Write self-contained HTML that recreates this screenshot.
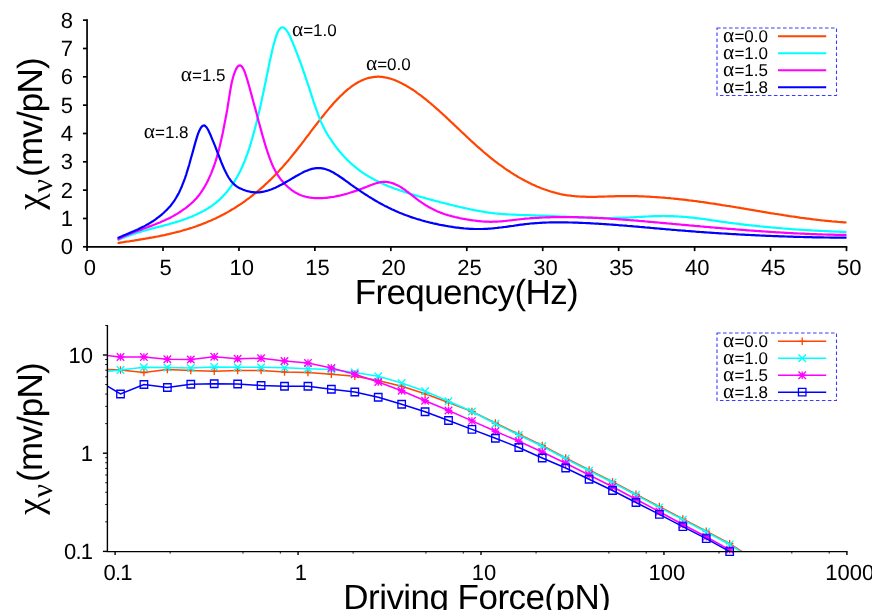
<!DOCTYPE html><html><head><meta charset="utf-8"><title>chart</title><style>html,body{margin:0;padding:0;background:#fff;overflow:hidden}svg{display:block;will-change:transform}</style></head><body><svg width="872" height="610" viewBox="0 0 872 610" font-family="Liberation Sans, sans-serif" text-rendering="geometricPrecision">
<rect width="872" height="610" fill="#fff"/>
<polyline points="117.6,243.1 119.1,242.8 120.5,242.6 122.0,242.4 123.4,242.2 124.9,241.9 126.4,241.7 127.8,241.5 129.3,241.3 130.7,241.0 132.2,240.8 133.7,240.6 135.1,240.3 136.6,240.1 138.1,239.9 139.5,239.6 141.0,239.4 142.4,239.2 143.9,238.9 145.4,238.7 146.8,238.4 148.3,238.2 149.7,237.9 151.2,237.6 152.7,237.4 154.1,237.1 155.6,236.8 157.0,236.5 158.5,236.3 160.0,236.0 161.4,235.7 162.9,235.4 164.3,235.1 165.8,234.7 167.3,234.4 168.7,234.1 170.2,233.7 171.6,233.4 173.1,233.0 174.6,232.7 176.0,232.3 177.5,231.9 179.0,231.6 180.4,231.2 181.9,230.8 183.3,230.3 184.8,229.9 186.3,229.5 187.7,229.0 189.2,228.6 190.6,228.1 192.1,227.7 193.6,227.2 195.0,226.7 196.5,226.2 197.9,225.6 199.4,225.1 200.9,224.6 202.3,224.0 203.8,223.4 205.2,222.9 206.7,222.3 208.2,221.6 209.6,221.0 211.1,220.4 212.5,219.7 214.0,219.1 215.5,218.4 216.9,217.7 218.4,217.0 219.9,216.3 221.3,215.5 222.8,214.7 224.2,214.0 225.7,213.2 227.2,212.4 228.6,211.6 230.1,210.7 231.5,209.8 233.0,209.0 234.5,208.1 235.9,207.2 237.4,206.2 238.8,205.3 240.3,204.3 241.8,203.3 243.2,202.3 244.7,201.3 246.1,200.2 247.6,199.2 249.1,198.1 250.5,197.0 252.0,195.9 253.4,194.7 254.9,193.5 256.4,192.3 257.8,191.1 259.3,189.9 260.8,188.6 262.2,187.4 263.7,186.1 265.1,184.7 266.6,183.4 268.1,182.0 269.5,180.6 271.0,179.2 272.4,177.7 273.9,176.3 275.4,174.8 276.8,173.3 278.3,171.7 279.7,170.1 281.2,168.5 282.7,166.9 284.1,165.3 285.6,163.6 287.0,161.9 288.5,160.2 290.0,158.4 291.4,156.6 292.9,154.8 294.3,153.0 295.8,151.2 297.3,149.3 298.7,147.5 300.2,145.6 301.7,143.7 303.1,141.8 304.6,139.8 306.0,137.9 307.5,136.0 309.0,134.1 310.4,132.2 311.9,130.2 313.3,128.3 314.8,126.4 316.3,124.5 317.7,122.6 319.2,120.7 320.6,118.9 322.1,117.0 323.6,115.2 325.0,113.4 326.5,111.6 327.9,109.9 329.4,108.1 330.9,106.4 332.3,104.8 333.8,103.1 335.2,101.5 336.7,99.9 338.2,98.4 339.6,96.9 341.1,95.5 342.6,94.1 344.0,92.7 345.5,91.4 346.9,90.1 348.4,88.9 349.9,87.8 351.3,86.7 352.8,85.6 354.2,84.6 355.7,83.7 357.2,82.8 358.6,82.0 360.1,81.3 361.5,80.6 363.0,79.9 364.5,79.3 365.9,78.8 367.4,78.3 368.8,77.9 370.3,77.6 371.8,77.3 373.2,77.1 374.7,76.9 376.1,76.8 377.6,76.7 379.1,76.7 380.5,76.8 382.0,76.9 383.5,77.1 384.9,77.4 386.4,77.6 387.8,78.0 389.3,78.4 390.8,78.8 392.2,79.3 393.7,79.8 395.1,80.3 396.6,80.9 398.1,81.6 399.5,82.2 401.0,82.9 402.4,83.7 403.9,84.5 405.4,85.3 406.8,86.1 408.3,87.0 409.7,87.9 411.2,88.8 412.7,89.7 414.1,90.7 415.6,91.7 417.0,92.8 418.5,93.8 420.0,94.9 421.4,96.0 422.9,97.1 424.4,98.3 425.8,99.4 427.3,100.6 428.7,101.8 430.2,103.0 431.7,104.3 433.1,105.5 434.6,106.8 436.0,108.1 437.5,109.4 439.0,110.7 440.4,112.0 441.9,113.3 443.3,114.7 444.8,116.0 446.3,117.4 447.7,118.7 449.2,120.1 450.6,121.5 452.1,122.9 453.6,124.2 455.0,125.6 456.5,127.0 457.9,128.4 459.4,129.8 460.9,131.2 462.3,132.5 463.8,133.9 465.3,135.3 466.7,136.7 468.2,138.0 469.6,139.4 471.1,140.8 472.6,142.1 474.0,143.4 475.5,144.8 476.9,146.1 478.4,147.4 479.9,148.7 481.3,149.9 482.8,151.2 484.2,152.5 485.7,153.7 487.2,154.9 488.6,156.1 490.1,157.3 491.5,158.5 493.0,159.6 494.5,160.8 495.9,161.9 497.4,163.0 498.8,164.1 500.3,165.2 501.8,166.2 503.2,167.2 504.7,168.3 506.2,169.3 507.6,170.3 509.1,171.2 510.5,172.2 512.0,173.1 513.5,174.1 514.9,175.0 516.4,175.8 517.8,176.7 519.3,177.6 520.8,178.4 522.2,179.2 523.7,180.0 525.1,180.8 526.6,181.6 528.1,182.3 529.5,183.0 531.0,183.7 532.4,184.4 533.9,185.1 535.4,185.8 536.8,186.4 538.3,187.0 539.7,187.6 541.2,188.2 542.7,188.7 544.1,189.3 545.6,189.8 547.1,190.3 548.5,190.8 550.0,191.3 551.4,191.7 552.9,192.1 554.4,192.5 555.8,192.9 557.3,193.3 558.7,193.6 560.2,194.0 561.7,194.3 563.1,194.6 564.6,194.8 566.0,195.1 567.5,195.3 569.0,195.5 570.4,195.7 571.9,195.9 573.3,196.0 574.8,196.2 576.3,196.3 577.7,196.4 579.2,196.5 580.6,196.6 582.1,196.6 583.6,196.7 585.0,196.7 586.5,196.8 588.0,196.8 589.4,196.8 590.9,196.8 592.3,196.8 593.8,196.8 595.3,196.8 596.7,196.8 598.2,196.7 599.6,196.7 601.1,196.7 602.6,196.6 604.0,196.6 605.5,196.5 606.9,196.5 608.4,196.4 609.9,196.4 611.3,196.4 612.8,196.3 614.2,196.3 615.7,196.2 617.2,196.2 618.6,196.2 620.1,196.1 621.5,196.1 623.0,196.1 624.5,196.1 625.9,196.1 627.4,196.1 628.9,196.1 630.3,196.1 631.8,196.1 633.2,196.1 634.7,196.2 636.2,196.2 637.6,196.2 639.1,196.3 640.5,196.3 642.0,196.4 643.5,196.4 644.9,196.5 646.4,196.6 647.8,196.6 649.3,196.7 650.8,196.8 652.2,196.9 653.7,197.0 655.1,197.1 656.6,197.2 658.1,197.3 659.5,197.4 661.0,197.5 662.4,197.6 663.9,197.7 665.4,197.8 666.8,198.0 668.3,198.1 669.8,198.2 671.2,198.4 672.7,198.5 674.1,198.6 675.6,198.8 677.1,198.9 678.5,199.1 680.0,199.3 681.4,199.4 682.9,199.6 684.4,199.7 685.8,199.9 687.3,200.1 688.7,200.3 690.2,200.5 691.7,200.6 693.1,200.8 694.6,201.0 696.0,201.2 697.5,201.4 699.0,201.6 700.4,201.8 701.9,202.0 703.3,202.2 704.8,202.4 706.3,202.6 707.7,202.8 709.2,203.1 710.7,203.3 712.1,203.5 713.6,203.7 715.0,203.9 716.5,204.2 718.0,204.4 719.4,204.6 720.9,204.8 722.3,205.1 723.8,205.3 725.3,205.5 726.7,205.8 728.2,206.0 729.6,206.2 731.1,206.5 732.6,206.7 734.0,207.0 735.5,207.2 736.9,207.5 738.4,207.7 739.9,207.9 741.3,208.2 742.8,208.4 744.2,208.7 745.7,208.9 747.2,209.2 748.6,209.4 750.1,209.7 751.6,209.9 753.0,210.1 754.5,210.4 755.9,210.6 757.4,210.9 758.9,211.1 760.3,211.4 761.8,211.6 763.2,211.9 764.7,212.1 766.2,212.3 767.6,212.6 769.1,212.8 770.5,213.1 772.0,213.3 773.5,213.5 774.9,213.8 776.4,214.0 777.8,214.2 779.3,214.5 780.8,214.7 782.2,214.9 783.7,215.2 785.1,215.4 786.6,215.6 788.1,215.8 789.5,216.1 791.0,216.3 792.5,216.5 793.9,216.7 795.4,216.9 796.8,217.1 798.3,217.3 799.8,217.6 801.2,217.8 802.7,218.0 804.1,218.2 805.6,218.4 807.1,218.6 808.5,218.7 810.0,218.9 811.4,219.1 812.9,219.3 814.4,219.5 815.8,219.6 817.3,219.8 818.7,220.0 820.2,220.2 821.7,220.3 823.1,220.5 824.6,220.6 826.0,220.8 827.5,220.9 829.0,221.1 830.4,221.2 831.9,221.4 833.4,221.5 834.8,221.6 836.3,221.7 837.7,221.9 839.2,222.0 840.7,222.1 842.1,222.2 843.6,222.3 845.0,222.4 846.5,222.5" fill="none" stroke="#ff4500" stroke-width="2.2" stroke-linejoin="round" stroke-linecap="butt"/>
<polyline points="117.6,240.2 119.1,239.5 120.5,238.9 122.0,238.2 123.4,237.6 124.9,237.1 126.4,236.5 127.8,235.9 129.3,235.4 130.7,234.9 132.2,234.4 133.7,233.9 135.1,233.4 136.6,233.0 138.1,232.5 139.5,232.1 141.0,231.6 142.4,231.2 143.9,230.8 145.4,230.4 146.8,230.0 148.3,229.6 149.7,229.2 151.2,228.8 152.7,228.4 154.1,228.0 155.6,227.7 157.0,227.3 158.5,226.9 160.0,226.5 161.4,226.1 162.9,225.8 164.3,225.4 165.8,225.0 167.3,224.6 168.7,224.2 170.2,223.8 171.6,223.4 173.1,222.9 174.6,222.5 176.0,222.1 177.5,221.6 179.0,221.2 180.4,220.7 181.9,220.2 183.3,219.7 184.8,219.2 186.3,218.7 187.7,218.1 189.2,217.5 190.6,217.0 192.1,216.4 193.6,215.7 195.0,215.1 196.5,214.4 197.9,213.8 199.4,213.1 200.9,212.3 202.3,211.6 203.8,210.8 205.2,210.0 206.7,209.1 208.2,208.2 209.6,207.3 211.1,206.3 212.5,205.3 214.0,204.2 215.5,203.1 216.9,201.9 218.4,200.6 219.9,199.3 221.3,197.9 222.8,196.4 224.2,194.8 225.7,193.2 227.2,191.5 228.6,189.6 230.1,187.7 231.5,185.7 233.0,183.6 234.5,181.4 235.9,179.0 237.4,176.5 238.8,173.8 240.3,170.9 241.8,167.8 243.2,164.5 244.7,161.0 246.1,157.2 247.6,153.2 249.1,148.8 250.5,144.2 252.0,139.3 253.4,134.1 254.9,128.7 256.4,123.0 257.8,117.1 259.3,110.9 260.8,104.5 262.2,97.8 263.7,91.0 265.1,84.0 266.6,76.8 268.1,69.7 269.5,62.6 271.0,55.9 272.4,49.5 273.9,43.7 275.4,38.6 276.8,34.3 278.3,31.0 279.7,28.8 281.2,27.6 282.7,27.3 284.1,27.8 285.6,29.1 287.0,31.0 288.5,33.4 290.0,36.3 291.4,39.6 292.9,43.1 294.3,46.7 295.8,50.4 297.3,54.2 298.7,58.0 300.2,61.9 301.7,65.9 303.1,70.1 304.6,74.3 306.0,78.6 307.5,83.0 309.0,87.4 310.4,91.9 311.9,96.3 313.3,100.8 314.8,105.1 316.3,109.4 317.7,113.4 319.2,117.3 320.6,120.9 322.1,124.2 323.6,127.2 325.0,130.1 326.5,132.7 327.9,135.2 329.4,137.5 330.9,139.7 332.3,141.9 333.8,143.9 335.2,145.9 336.7,147.9 338.2,149.7 339.6,151.5 341.1,153.2 342.6,154.9 344.0,156.5 345.5,158.1 346.9,159.6 348.4,161.0 349.9,162.4 351.3,163.7 352.8,165.0 354.2,166.2 355.7,167.4 357.2,168.6 358.6,169.7 360.1,170.8 361.5,171.8 363.0,172.8 364.5,173.8 365.9,174.7 367.4,175.6 368.8,176.5 370.3,177.4 371.8,178.2 373.2,179.0 374.7,179.8 376.1,180.6 377.6,181.3 379.1,182.0 380.5,182.7 382.0,183.4 383.5,184.1 384.9,184.7 386.4,185.3 387.8,185.9 389.3,186.5 390.8,187.1 392.2,187.7 393.7,188.2 395.1,188.8 396.6,189.3 398.1,189.8 399.5,190.3 401.0,190.8 402.4,191.3 403.9,191.8 405.4,192.3 406.8,192.7 408.3,193.2 409.7,193.6 411.2,194.1 412.7,194.5 414.1,194.9 415.6,195.4 417.0,195.8 418.5,196.2 420.0,196.6 421.4,197.1 422.9,197.5 424.4,197.9 425.8,198.3 427.3,198.7 428.7,199.1 430.2,199.5 431.7,199.9 433.1,200.3 434.6,200.7 436.0,201.1 437.5,201.4 439.0,201.8 440.4,202.2 441.9,202.6 443.3,202.9 444.8,203.3 446.3,203.7 447.7,204.0 449.2,204.4 450.6,204.8 452.1,205.1 453.6,205.5 455.0,205.8 456.5,206.2 457.9,206.5 459.4,206.8 460.9,207.2 462.3,207.5 463.8,207.9 465.3,208.2 466.7,208.5 468.2,208.8 469.6,209.1 471.1,209.5 472.6,209.8 474.0,210.1 475.5,210.3 476.9,210.6 478.4,210.9 479.9,211.2 481.3,211.4 482.8,211.7 484.2,211.9 485.7,212.2 487.2,212.4 488.6,212.6 490.1,212.8 491.5,213.0 493.0,213.1 494.5,213.3 495.9,213.5 497.4,213.6 498.8,213.7 500.3,213.9 501.8,214.0 503.2,214.1 504.7,214.2 506.2,214.3 507.6,214.4 509.1,214.5 510.5,214.5 512.0,214.6 513.5,214.7 514.9,214.7 516.4,214.8 517.8,214.9 519.3,214.9 520.8,215.0 522.2,215.0 523.7,215.1 525.1,215.1 526.6,215.1 528.1,215.2 529.5,215.2 531.0,215.3 532.4,215.3 533.9,215.4 535.4,215.4 536.8,215.5 538.3,215.5 539.7,215.6 541.2,215.6 542.7,215.7 544.1,215.7 545.6,215.8 547.1,215.9 548.5,215.9 550.0,216.0 551.4,216.1 552.9,216.1 554.4,216.2 555.8,216.3 557.3,216.3 558.7,216.4 560.2,216.5 561.7,216.5 563.1,216.6 564.6,216.7 566.0,216.7 567.5,216.8 569.0,216.9 570.4,216.9 571.9,217.0 573.3,217.1 574.8,217.1 576.3,217.2 577.7,217.3 579.2,217.3 580.6,217.4 582.1,217.4 583.6,217.5 585.0,217.5 586.5,217.6 588.0,217.6 589.4,217.7 590.9,217.7 592.3,217.8 593.8,217.8 595.3,217.8 596.7,217.9 598.2,217.9 599.6,217.9 601.1,217.9 602.6,217.9 604.0,218.0 605.5,218.0 606.9,218.0 608.4,218.0 609.9,218.0 611.3,218.0 612.8,218.0 614.2,217.9 615.7,217.9 617.2,217.9 618.6,217.9 620.1,217.8 621.5,217.8 623.0,217.7 624.5,217.7 625.9,217.6 627.4,217.6 628.9,217.5 630.3,217.4 631.8,217.3 633.2,217.3 634.7,217.2 636.2,217.1 637.6,217.0 639.1,216.9 640.5,216.8 642.0,216.8 643.5,216.7 644.9,216.6 646.4,216.5 647.8,216.5 649.3,216.4 650.8,216.3 652.2,216.3 653.7,216.2 655.1,216.2 656.6,216.1 658.1,216.1 659.5,216.1 661.0,216.1 662.4,216.0 663.9,216.0 665.4,216.1 666.8,216.1 668.3,216.1 669.8,216.1 671.2,216.2 672.7,216.2 674.1,216.3 675.6,216.3 677.1,216.4 678.5,216.5 680.0,216.6 681.4,216.6 682.9,216.8 684.4,216.9 685.8,217.0 687.3,217.1 688.7,217.3 690.2,217.4 691.7,217.6 693.1,217.7 694.6,217.9 696.0,218.1 697.5,218.3 699.0,218.4 700.4,218.6 701.9,218.8 703.3,219.0 704.8,219.2 706.3,219.4 707.7,219.7 709.2,219.9 710.7,220.1 712.1,220.3 713.6,220.5 715.0,220.7 716.5,220.9 718.0,221.1 719.4,221.4 720.9,221.6 722.3,221.8 723.8,222.0 725.3,222.2 726.7,222.4 728.2,222.6 729.6,222.8 731.1,223.0 732.6,223.2 734.0,223.4 735.5,223.5 736.9,223.7 738.4,223.9 739.9,224.1 741.3,224.3 742.8,224.4 744.2,224.6 745.7,224.8 747.2,224.9 748.6,225.1 750.1,225.3 751.6,225.4 753.0,225.6 754.5,225.7 755.9,225.9 757.4,226.1 758.9,226.2 760.3,226.4 761.8,226.5 763.2,226.6 764.7,226.8 766.2,226.9 767.6,227.1 769.1,227.2 770.5,227.3 772.0,227.5 773.5,227.6 774.9,227.7 776.4,227.9 777.8,228.0 779.3,228.1 780.8,228.2 782.2,228.4 783.7,228.5 785.1,228.6 786.6,228.7 788.1,228.8 789.5,228.9 791.0,229.0 792.5,229.2 793.9,229.3 795.4,229.4 796.8,229.5 798.3,229.6 799.8,229.7 801.2,229.8 802.7,229.9 804.1,230.0 805.6,230.1 807.1,230.1 808.5,230.2 810.0,230.3 811.4,230.4 812.9,230.5 814.4,230.6 815.8,230.7 817.3,230.7 818.7,230.8 820.2,230.9 821.7,231.0 823.1,231.0 824.6,231.1 826.0,231.2 827.5,231.2 829.0,231.3 830.4,231.4 831.9,231.4 833.4,231.5 834.8,231.6 836.3,231.6 837.7,231.7 839.2,231.7 840.7,231.8 842.1,231.8 843.6,231.9 845.0,231.9 846.5,232.0" fill="none" stroke="#00ffff" stroke-width="2.2" stroke-linejoin="round" stroke-linecap="butt"/>
<polyline points="117.6,239.4 119.1,238.7 120.5,238.0 122.0,237.3 123.4,236.6 124.9,235.9 126.4,235.3 127.8,234.7 129.3,234.1 130.7,233.5 132.2,232.9 133.7,232.3 135.1,231.8 136.6,231.2 138.1,230.7 139.5,230.1 141.0,229.6 142.4,229.1 143.9,228.5 145.4,228.0 146.8,227.5 148.3,226.9 149.7,226.4 151.2,225.9 152.7,225.3 154.1,224.7 155.6,224.2 157.0,223.6 158.5,223.0 160.0,222.4 161.4,221.8 162.9,221.1 164.3,220.5 165.8,219.8 167.3,219.1 168.7,218.4 170.2,217.7 171.6,216.9 173.1,216.1 174.6,215.3 176.0,214.4 177.5,213.6 179.0,212.6 180.4,211.7 181.9,210.7 183.3,209.7 184.8,208.7 186.3,207.6 187.7,206.4 189.2,205.2 190.6,204.0 192.1,202.7 193.6,201.3 195.0,199.8 196.5,198.2 197.9,196.5 199.4,194.7 200.9,192.7 202.3,190.5 203.8,188.2 205.2,185.7 206.7,183.0 208.2,180.1 209.6,176.9 211.1,173.6 212.5,169.9 214.0,166.0 215.5,161.6 216.9,156.9 218.4,151.6 219.9,145.8 221.3,139.5 222.8,132.7 224.2,125.5 225.7,117.9 227.2,109.7 228.6,100.8 230.1,91.5 231.5,83.5 233.0,77.5 234.5,72.9 235.9,69.3 237.4,66.9 238.8,65.6 240.3,65.4 241.8,66.4 243.2,68.6 244.7,71.8 246.1,76.0 247.6,80.8 249.1,86.0 250.5,91.3 252.0,96.6 253.4,102.0 254.9,107.4 256.4,112.8 257.8,118.2 259.3,123.7 260.8,129.1 262.2,134.4 263.7,139.5 265.1,144.4 266.6,149.1 268.1,153.6 269.5,157.7 271.0,161.6 272.4,165.1 273.9,168.2 275.4,171.1 276.8,173.6 278.3,175.9 279.7,178.0 281.2,179.9 282.7,181.6 284.1,183.2 285.6,184.8 287.0,186.2 288.5,187.5 290.0,188.7 291.4,189.9 292.9,190.9 294.3,191.9 295.8,192.7 297.3,193.5 298.7,194.2 300.2,194.9 301.7,195.5 303.1,196.0 304.6,196.4 306.0,196.8 307.5,197.1 309.0,197.4 310.4,197.6 311.9,197.8 313.3,198.0 314.8,198.1 316.3,198.1 317.7,198.2 319.2,198.2 320.6,198.1 322.1,198.1 323.6,198.0 325.0,197.9 326.5,197.8 327.9,197.6 329.4,197.4 330.9,197.2 332.3,197.0 333.8,196.8 335.2,196.5 336.7,196.2 338.2,195.9 339.6,195.6 341.1,195.2 342.6,194.9 344.0,194.5 345.5,194.1 346.9,193.7 348.4,193.2 349.9,192.8 351.3,192.3 352.8,191.9 354.2,191.4 355.7,190.9 357.2,190.4 358.6,189.8 360.1,189.3 361.5,188.8 363.0,188.2 364.5,187.6 365.9,187.1 367.4,186.5 368.8,185.9 370.3,185.3 371.8,184.8 373.2,184.2 374.7,183.7 376.1,183.3 377.6,182.9 379.1,182.5 380.5,182.2 382.0,182.0 383.5,181.9 384.9,181.9 386.4,181.9 387.8,182.1 389.3,182.3 390.8,182.7 392.2,183.1 393.7,183.6 395.1,184.2 396.6,184.9 398.1,185.6 399.5,186.4 401.0,187.3 402.4,188.2 403.9,189.2 405.4,190.2 406.8,191.3 408.3,192.4 409.7,193.5 411.2,194.7 412.7,195.8 414.1,196.9 415.6,198.1 417.0,199.2 418.5,200.3 420.0,201.3 421.4,202.3 422.9,203.3 424.4,204.3 425.8,205.2 427.3,206.1 428.7,207.0 430.2,207.8 431.7,208.6 433.1,209.3 434.6,210.1 436.0,210.7 437.5,211.4 439.0,212.0 440.4,212.6 441.9,213.1 443.3,213.7 444.8,214.2 446.3,214.6 447.7,215.1 449.2,215.5 450.6,215.9 452.1,216.3 453.6,216.6 455.0,217.0 456.5,217.3 457.9,217.6 459.4,218.0 460.9,218.3 462.3,218.6 463.8,218.8 465.3,219.1 466.7,219.4 468.2,219.6 469.6,219.9 471.1,220.1 472.6,220.3 474.0,220.5 475.5,220.7 476.9,220.9 478.4,221.1 479.9,221.2 481.3,221.3 482.8,221.5 484.2,221.6 485.7,221.6 487.2,221.7 488.6,221.7 490.1,221.8 491.5,221.8 493.0,221.7 494.5,221.7 495.9,221.6 497.4,221.6 498.8,221.5 500.3,221.4 501.8,221.3 503.2,221.1 504.7,221.0 506.2,220.8 507.6,220.7 509.1,220.5 510.5,220.3 512.0,220.2 513.5,220.0 514.9,219.8 516.4,219.7 517.8,219.5 519.3,219.3 520.8,219.2 522.2,219.0 523.7,218.9 525.1,218.7 526.6,218.6 528.1,218.5 529.5,218.4 531.0,218.2 532.4,218.1 533.9,218.0 535.4,217.9 536.8,217.9 538.3,217.8 539.7,217.7 541.2,217.6 542.7,217.5 544.1,217.5 545.6,217.4 547.1,217.4 548.5,217.3 550.0,217.3 551.4,217.2 552.9,217.2 554.4,217.2 555.8,217.2 557.3,217.1 558.7,217.1 560.2,217.1 561.7,217.1 563.1,217.1 564.6,217.1 566.0,217.1 567.5,217.1 569.0,217.1 570.4,217.1 571.9,217.1 573.3,217.2 574.8,217.2 576.3,217.2 577.7,217.2 579.2,217.3 580.6,217.3 582.1,217.4 583.6,217.4 585.0,217.5 586.5,217.5 588.0,217.6 589.4,217.6 590.9,217.7 592.3,217.7 593.8,217.8 595.3,217.9 596.7,217.9 598.2,218.0 599.6,218.1 601.1,218.2 602.6,218.2 604.0,218.3 605.5,218.4 606.9,218.5 608.4,218.6 609.9,218.7 611.3,218.8 612.8,218.9 614.2,219.0 615.7,219.1 617.2,219.2 618.6,219.3 620.1,219.4 621.5,219.5 623.0,219.6 624.5,219.7 625.9,219.8 627.4,219.9 628.9,220.0 630.3,220.2 631.8,220.3 633.2,220.4 634.7,220.5 636.2,220.6 637.6,220.7 639.1,220.9 640.5,221.0 642.0,221.1 643.5,221.2 644.9,221.4 646.4,221.5 647.8,221.6 649.3,221.8 650.8,221.9 652.2,222.0 653.7,222.1 655.1,222.3 656.6,222.4 658.1,222.5 659.5,222.7 661.0,222.8 662.4,222.9 663.9,223.1 665.4,223.2 666.8,223.3 668.3,223.5 669.8,223.6 671.2,223.7 672.7,223.9 674.1,224.0 675.6,224.1 677.1,224.3 678.5,224.4 680.0,224.5 681.4,224.7 682.9,224.8 684.4,224.9 685.8,225.1 687.3,225.2 688.7,225.3 690.2,225.5 691.7,225.6 693.1,225.7 694.6,225.9 696.0,226.0 697.5,226.1 699.0,226.2 700.4,226.4 701.9,226.5 703.3,226.6 704.8,226.8 706.3,226.9 707.7,227.0 709.2,227.1 710.7,227.3 712.1,227.4 713.6,227.5 715.0,227.6 716.5,227.8 718.0,227.9 719.4,228.0 720.9,228.1 722.3,228.3 723.8,228.4 725.3,228.5 726.7,228.6 728.2,228.8 729.6,228.9 731.1,229.0 732.6,229.1 734.0,229.2 735.5,229.3 736.9,229.5 738.4,229.6 739.9,229.7 741.3,229.8 742.8,229.9 744.2,230.0 745.7,230.1 747.2,230.3 748.6,230.4 750.1,230.5 751.6,230.6 753.0,230.7 754.5,230.8 755.9,230.9 757.4,231.0 758.9,231.1 760.3,231.2 761.8,231.3 763.2,231.4 764.7,231.5 766.2,231.6 767.6,231.7 769.1,231.8 770.5,231.9 772.0,232.0 773.5,232.1 774.9,232.2 776.4,232.3 777.8,232.4 779.3,232.4 780.8,232.5 782.2,232.6 783.7,232.7 785.1,232.8 786.6,232.9 788.1,233.0 789.5,233.0 791.0,233.1 792.5,233.2 793.9,233.3 795.4,233.3 796.8,233.4 798.3,233.5 799.8,233.5 801.2,233.6 802.7,233.7 804.1,233.7 805.6,233.8 807.1,233.9 808.5,233.9 810.0,234.0 811.4,234.1 812.9,234.1 814.4,234.2 815.8,234.2 817.3,234.3 818.7,234.3 820.2,234.4 821.7,234.4 823.1,234.5 824.6,234.5 826.0,234.5 827.5,234.6 829.0,234.6 830.4,234.7 831.9,234.7 833.4,234.7 834.8,234.8 836.3,234.8 837.7,234.8 839.2,234.8 840.7,234.9 842.1,234.9 843.6,234.9 845.0,234.9 846.5,234.9" fill="none" stroke="#ff00ff" stroke-width="2.2" stroke-linejoin="round" stroke-linecap="butt"/>
<polyline points="117.6,238.1 119.1,237.4 120.5,236.8 122.0,236.2 123.4,235.5 124.9,234.9 126.4,234.3 127.8,233.7 129.3,233.1 130.7,232.4 132.2,231.8 133.7,231.2 135.1,230.5 136.6,229.9 138.1,229.2 139.5,228.5 141.0,227.8 142.4,227.1 143.9,226.4 145.4,225.6 146.8,224.8 148.3,224.0 149.7,223.1 151.2,222.2 152.7,221.3 154.1,220.3 155.6,219.3 157.0,218.2 158.5,217.1 160.0,216.0 161.4,214.8 162.9,213.5 164.3,212.2 165.8,210.8 167.3,209.4 168.7,207.8 170.2,206.2 171.6,204.4 173.1,202.4 174.6,200.3 176.0,198.0 177.5,195.4 179.0,192.7 180.4,189.6 181.9,186.2 183.3,182.6 184.8,178.6 186.3,174.3 187.7,169.6 189.2,164.7 190.6,159.5 192.1,154.2 193.6,148.9 195.0,143.6 196.5,138.6 197.9,134.2 199.4,130.5 200.9,127.7 202.3,126.0 203.8,125.4 205.2,125.9 206.7,127.5 208.2,130.0 209.6,133.0 211.1,136.3 212.5,139.8 214.0,143.4 215.5,147.2 216.9,150.9 218.4,154.7 219.9,158.5 221.3,162.2 222.8,165.7 224.2,169.0 225.7,172.1 227.2,175.0 228.6,177.5 230.1,179.7 231.5,181.6 233.0,183.2 234.5,184.6 235.9,185.8 237.4,186.8 238.8,187.7 240.3,188.4 241.8,189.1 243.2,189.7 244.7,190.3 246.1,190.7 247.6,191.2 249.1,191.5 250.5,191.8 252.0,192.1 253.4,192.2 254.9,192.4 256.4,192.4 257.8,192.4 259.3,192.3 260.8,192.1 262.2,191.9 263.7,191.7 265.1,191.3 266.6,190.9 268.1,190.5 269.5,190.0 271.0,189.5 272.4,188.9 273.9,188.3 275.4,187.7 276.8,187.0 278.3,186.3 279.7,185.5 281.2,184.8 282.7,184.0 284.1,183.2 285.6,182.3 287.0,181.5 288.5,180.6 290.0,179.8 291.4,178.9 292.9,178.0 294.3,177.2 295.8,176.3 297.3,175.5 298.7,174.7 300.2,173.9 301.7,173.1 303.1,172.3 304.6,171.6 306.0,171.0 307.5,170.4 309.0,169.8 310.4,169.4 311.9,168.9 313.3,168.6 314.8,168.3 316.3,168.1 317.7,168.1 319.2,168.1 320.6,168.1 322.1,168.3 323.6,168.6 325.0,169.0 326.5,169.5 327.9,170.0 329.4,170.6 330.9,171.3 332.3,172.1 333.8,172.8 335.2,173.7 336.7,174.6 338.2,175.5 339.6,176.5 341.1,177.5 342.6,178.5 344.0,179.5 345.5,180.6 346.9,181.6 348.4,182.7 349.9,183.8 351.3,184.8 352.8,185.8 354.2,186.9 355.7,187.9 357.2,188.9 358.6,189.9 360.1,190.9 361.5,191.9 363.0,192.8 364.5,193.8 365.9,194.7 367.4,195.7 368.8,196.6 370.3,197.5 371.8,198.4 373.2,199.3 374.7,200.2 376.1,201.0 377.6,201.9 379.1,202.7 380.5,203.5 382.0,204.3 383.5,205.1 384.9,205.9 386.4,206.6 387.8,207.3 389.3,208.1 390.8,208.8 392.2,209.5 393.7,210.1 395.1,210.8 396.6,211.4 398.1,212.1 399.5,212.7 401.0,213.3 402.4,213.8 403.9,214.4 405.4,215.0 406.8,215.5 408.3,216.0 409.7,216.6 411.2,217.1 412.7,217.6 414.1,218.0 415.6,218.5 417.0,219.0 418.5,219.4 420.0,219.8 421.4,220.3 422.9,220.7 424.4,221.1 425.8,221.5 427.3,221.8 428.7,222.2 430.2,222.6 431.7,222.9 433.1,223.3 434.6,223.6 436.0,223.9 437.5,224.2 439.0,224.6 440.4,224.9 441.9,225.1 443.3,225.4 444.8,225.7 446.3,226.0 447.7,226.2 449.2,226.5 450.6,226.7 452.1,226.9 453.6,227.2 455.0,227.4 456.5,227.6 457.9,227.7 459.4,227.9 460.9,228.1 462.3,228.2 463.8,228.4 465.3,228.5 466.7,228.6 468.2,228.7 469.6,228.8 471.1,228.9 472.6,228.9 474.0,229.0 475.5,229.0 476.9,229.0 478.4,229.0 479.9,229.0 481.3,229.0 482.8,229.0 484.2,228.9 485.7,228.9 487.2,228.8 488.6,228.7 490.1,228.6 491.5,228.5 493.0,228.3 494.5,228.2 495.9,228.0 497.4,227.9 498.8,227.7 500.3,227.5 501.8,227.4 503.2,227.2 504.7,227.0 506.2,226.8 507.6,226.6 509.1,226.4 510.5,226.2 512.0,226.0 513.5,225.8 514.9,225.5 516.4,225.3 517.8,225.1 519.3,224.9 520.8,224.7 522.2,224.6 523.7,224.4 525.1,224.2 526.6,224.0 528.1,223.8 529.5,223.7 531.0,223.5 532.4,223.4 533.9,223.3 535.4,223.2 536.8,223.1 538.3,223.0 539.7,222.9 541.2,222.8 542.7,222.7 544.1,222.6 545.6,222.6 547.1,222.5 548.5,222.5 550.0,222.4 551.4,222.4 552.9,222.4 554.4,222.4 555.8,222.3 557.3,222.3 558.7,222.3 560.2,222.3 561.7,222.3 563.1,222.4 564.6,222.4 566.0,222.4 567.5,222.4 569.0,222.5 570.4,222.5 571.9,222.5 573.3,222.6 574.8,222.6 576.3,222.7 577.7,222.7 579.2,222.8 580.6,222.8 582.1,222.9 583.6,223.0 585.0,223.0 586.5,223.1 588.0,223.2 589.4,223.2 590.9,223.3 592.3,223.4 593.8,223.5 595.3,223.6 596.7,223.6 598.2,223.7 599.6,223.8 601.1,223.9 602.6,224.0 604.0,224.1 605.5,224.2 606.9,224.3 608.4,224.4 609.9,224.5 611.3,224.6 612.8,224.7 614.2,224.8 615.7,224.9 617.2,225.0 618.6,225.2 620.1,225.3 621.5,225.4 623.0,225.5 624.5,225.6 625.9,225.7 627.4,225.9 628.9,226.0 630.3,226.1 631.8,226.2 633.2,226.3 634.7,226.5 636.2,226.6 637.6,226.7 639.1,226.8 640.5,227.0 642.0,227.1 643.5,227.2 644.9,227.4 646.4,227.5 647.8,227.6 649.3,227.7 650.8,227.9 652.2,228.0 653.7,228.1 655.1,228.3 656.6,228.4 658.1,228.5 659.5,228.6 661.0,228.8 662.4,228.9 663.9,229.0 665.4,229.2 666.8,229.3 668.3,229.4 669.8,229.5 671.2,229.7 672.7,229.8 674.1,229.9 675.6,230.0 677.1,230.2 678.5,230.3 680.0,230.4 681.4,230.5 682.9,230.6 684.4,230.7 685.8,230.9 687.3,231.0 688.7,231.1 690.2,231.2 691.7,231.3 693.1,231.4 694.6,231.5 696.0,231.7 697.5,231.8 699.0,231.9 700.4,232.0 701.9,232.1 703.3,232.2 704.8,232.3 706.3,232.4 707.7,232.5 709.2,232.6 710.7,232.7 712.1,232.8 713.6,232.9 715.0,233.0 716.5,233.1 718.0,233.2 719.4,233.3 720.9,233.4 722.3,233.5 723.8,233.5 725.3,233.6 726.7,233.7 728.2,233.8 729.6,233.9 731.1,234.0 732.6,234.1 734.0,234.2 735.5,234.2 736.9,234.3 738.4,234.4 739.9,234.5 741.3,234.6 742.8,234.6 744.2,234.7 745.7,234.8 747.2,234.9 748.6,234.9 750.1,235.0 751.6,235.1 753.0,235.2 754.5,235.2 755.9,235.3 757.4,235.4 758.9,235.4 760.3,235.5 761.8,235.6 763.2,235.6 764.7,235.7 766.2,235.8 767.6,235.8 769.1,235.9 770.5,235.9 772.0,236.0 773.5,236.1 774.9,236.1 776.4,236.2 777.8,236.2 779.3,236.3 780.8,236.3 782.2,236.4 783.7,236.4 785.1,236.5 786.6,236.5 788.1,236.6 789.5,236.6 791.0,236.7 792.5,236.7 793.9,236.8 795.4,236.8 796.8,236.9 798.3,236.9 799.8,236.9 801.2,237.0 802.7,237.0 804.1,237.1 805.6,237.1 807.1,237.1 808.5,237.2 810.0,237.2 811.4,237.2 812.9,237.3 814.4,237.3 815.8,237.3 817.3,237.3 818.7,237.4 820.2,237.4 821.7,237.4 823.1,237.4 824.6,237.5 826.0,237.5 827.5,237.5 829.0,237.5 830.4,237.6 831.9,237.6 833.4,237.6 834.8,237.6 836.3,237.6 837.7,237.6 839.2,237.7 840.7,237.7 842.1,237.7 843.6,237.7 845.0,237.7 846.5,237.7" fill="none" stroke="#0000ff" stroke-width="2.2" stroke-linejoin="round" stroke-linecap="butt"/>
<g stroke="#000000" stroke-width="1.7" fill="none">
<path d="M87.05 19.360000000000024 V246.8 H847.3"/>
<path d="M82.95 246.80 H87.05"/>
<path d="M82.95 218.47 H87.05"/>
<path d="M82.95 190.14 H87.05"/>
<path d="M82.95 161.81 H87.05"/>
<path d="M82.95 133.48 H87.05"/>
<path d="M82.95 105.15 H87.05"/>
<path d="M82.95 76.82 H87.05"/>
<path d="M82.95 48.49 H87.05"/>
<path d="M82.95 20.16 H87.05"/>
<path d="M87.05 246.8 V251.10000000000002"/>
<path d="M163.00 246.8 V251.10000000000002"/>
<path d="M238.94 246.8 V251.10000000000002"/>
<path d="M314.88 246.8 V251.10000000000002"/>
<path d="M390.83 246.8 V251.10000000000002"/>
<path d="M466.78 246.8 V251.10000000000002"/>
<path d="M542.72 246.8 V251.10000000000002"/>
<path d="M618.66 246.8 V251.10000000000002"/>
<path d="M694.61 246.8 V251.10000000000002"/>
<path d="M770.55 246.8 V251.10000000000002"/>
<path d="M846.50 246.8 V251.10000000000002"/>
</g>
<g font-size="22" fill="#000">
<text x="73.1" y="254.40" text-anchor="end">0</text>
<text x="73.1" y="226.07" text-anchor="end">1</text>
<text x="73.1" y="197.74" text-anchor="end">2</text>
<text x="73.1" y="169.41" text-anchor="end">3</text>
<text x="73.1" y="141.08" text-anchor="end">4</text>
<text x="73.1" y="112.75" text-anchor="end">5</text>
<text x="73.1" y="84.42" text-anchor="end">6</text>
<text x="73.1" y="56.09" text-anchor="end">7</text>
<text x="73.1" y="27.76" text-anchor="end">8</text>
<text x="89.75" y="275.3" text-anchor="middle">0</text>
<text x="165.69" y="275.3" text-anchor="middle">5</text>
<text x="241.64" y="275.3" text-anchor="middle">10</text>
<text x="317.58" y="275.3" text-anchor="middle">15</text>
<text x="393.53" y="275.3" text-anchor="middle">20</text>
<text x="469.48" y="275.3" text-anchor="middle">25</text>
<text x="545.42" y="275.3" text-anchor="middle">30</text>
<text x="621.37" y="275.3" text-anchor="middle">35</text>
<text x="697.31" y="275.3" text-anchor="middle">40</text>
<text x="773.25" y="275.3" text-anchor="middle">45</text>
<text x="849.20" y="275.3" text-anchor="middle">50</text>
</g>
<text x="354.7" y="304.2" font-size="35" textLength="224" lengthAdjust="spacing" fill="#000">Frequency(Hz)</text>
<g transform="translate(41.5 0) rotate(-90)"><text font-size="35" fill="#000"><tspan x="-209.7" y="0" font-family="Liberation Serif, serif" font-size="37">χ</tspan><tspan x="-192.6" y="10.2" font-family="Liberation Serif, serif" font-size="30">ν</tspan><tspan x="-176.9" y="0" textLength="119.5" lengthAdjust="spacing">(mv/pN)</tspan></text></g>
<g transform="translate(41.5 305.0) rotate(-90)"><text font-size="35" fill="#000"><tspan x="-209.7" y="0" font-family="Liberation Serif, serif" font-size="37">χ</tspan><tspan x="-192.6" y="10.2" font-family="Liberation Serif, serif" font-size="30">ν</tspan><tspan x="-176.9" y="0" textLength="119.5" lengthAdjust="spacing">(mv/pN)</tspan></text></g>
<text y="137.8" font-size="17" fill="#000"><tspan x="143.70" font-family="Liberation Serif, serif" font-size="21" textLength="11.2" lengthAdjust="spacingAndGlyphs">α</tspan><tspan x="155.00">=1.8</tspan></text>
<text y="81.0" font-size="17" fill="#000"><tspan x="180.70" font-family="Liberation Serif, serif" font-size="21" textLength="11.2" lengthAdjust="spacingAndGlyphs">α</tspan><tspan x="192.00">=1.5</tspan></text>
<text y="35.7" font-size="17" fill="#000"><tspan x="291.90" font-family="Liberation Serif, serif" font-size="21" textLength="11.2" lengthAdjust="spacingAndGlyphs">α</tspan><tspan x="303.20">=1.0</tspan></text>
<text y="69.9" font-size="17" fill="#000"><tspan x="365.90" font-family="Liberation Serif, serif" font-size="21" textLength="11.2" lengthAdjust="spacingAndGlyphs">α</tspan><tspan x="377.20">=0.0</tspan></text>
<rect x="717.0" y="28.0" width="119.5" height="67.5" fill="none" stroke="#3c3cff" stroke-width="1.1" stroke-dasharray="3.6 2.4"/><text y="42.1" font-size="17" fill="#000"><tspan x="723.10" font-family="Liberation Serif, serif" font-size="21" textLength="11.2" lengthAdjust="spacingAndGlyphs">α</tspan><tspan x="734.40">=0.0</tspan></text><path d="M778 36.35 H826.2" stroke="#ff4500" stroke-width="2.0" fill="none"/><text y="59.03" font-size="17" fill="#000"><tspan x="723.10" font-family="Liberation Serif, serif" font-size="21" textLength="11.2" lengthAdjust="spacingAndGlyphs">α</tspan><tspan x="734.40">=1.0</tspan></text><path d="M778 53.28 H826.2" stroke="#00ffff" stroke-width="2.0" fill="none"/><text y="75.96" font-size="17" fill="#000"><tspan x="723.10" font-family="Liberation Serif, serif" font-size="21" textLength="11.2" lengthAdjust="spacingAndGlyphs">α</tspan><tspan x="734.40">=1.5</tspan></text><path d="M778 70.21 H826.2" stroke="#ff00ff" stroke-width="2.0" fill="none"/><text y="92.89" font-size="17" fill="#000"><tspan x="723.10" font-family="Liberation Serif, serif" font-size="21" textLength="11.2" lengthAdjust="spacingAndGlyphs">α</tspan><tspan x="734.40">=1.8</tspan></text><path d="M778 87.14 H826.2" stroke="#0000ff" stroke-width="2.0" fill="none"/>
<clipPath id="cb"><rect x="107.4" y="325.0" width="739.5" height="226.60000000000002"/></clipPath>
<polyline clip-path="url(#cb)" points="97.07,369.00 120.50,370.00 143.93,372.50 167.36,369.50 190.79,370.50 214.22,371.25 237.65,370.50 261.08,370.50 284.51,372.00 307.94,372.50 331.37,374.25 354.80,376.25 378.23,380.50 401.66,386.25 425.09,393.75 448.52,402.50 471.95,411.50 495.38,423.00 518.81,434.25 542.24,445.50 565.67,458.00 589.10,470.00 612.53,481.75 635.96,494.25 659.39,506.60 682.82,518.90 706.25,531.20 729.68,543.70 753.11,558.70 776.54,573.70" fill="none" stroke="#ff4500" stroke-width="1.5"/>
<path d="M116.75 370.00H124.25M120.50 366.25V373.75" stroke="#ff4500" stroke-width="1.3" fill="none"/>
<path d="M140.18 372.50H147.68M143.93 368.75V376.25" stroke="#ff4500" stroke-width="1.3" fill="none"/>
<path d="M163.61 369.50H171.11M167.36 365.75V373.25" stroke="#ff4500" stroke-width="1.3" fill="none"/>
<path d="M187.04 370.50H194.54M190.79 366.75V374.25" stroke="#ff4500" stroke-width="1.3" fill="none"/>
<path d="M210.47 371.25H217.97M214.22 367.50V375.00" stroke="#ff4500" stroke-width="1.3" fill="none"/>
<path d="M233.90 370.50H241.40M237.65 366.75V374.25" stroke="#ff4500" stroke-width="1.3" fill="none"/>
<path d="M257.33 370.50H264.83M261.08 366.75V374.25" stroke="#ff4500" stroke-width="1.3" fill="none"/>
<path d="M280.76 372.00H288.26M284.51 368.25V375.75" stroke="#ff4500" stroke-width="1.3" fill="none"/>
<path d="M304.19 372.50H311.69M307.94 368.75V376.25" stroke="#ff4500" stroke-width="1.3" fill="none"/>
<path d="M327.62 374.25H335.12M331.37 370.50V378.00" stroke="#ff4500" stroke-width="1.3" fill="none"/>
<path d="M351.05 376.25H358.55M354.80 372.50V380.00" stroke="#ff4500" stroke-width="1.3" fill="none"/>
<path d="M374.48 380.50H381.98M378.23 376.75V384.25" stroke="#ff4500" stroke-width="1.3" fill="none"/>
<path d="M397.91 386.25H405.41M401.66 382.50V390.00" stroke="#ff4500" stroke-width="1.3" fill="none"/>
<path d="M421.34 393.75H428.84M425.09 390.00V397.50" stroke="#ff4500" stroke-width="1.3" fill="none"/>
<path d="M444.77 402.50H452.27M448.52 398.75V406.25" stroke="#ff4500" stroke-width="1.3" fill="none"/>
<path d="M468.20 411.50H475.70M471.95 407.75V415.25" stroke="#ff4500" stroke-width="1.3" fill="none"/>
<path d="M491.63 423.00H499.13M495.38 419.25V426.75" stroke="#ff4500" stroke-width="1.3" fill="none"/>
<path d="M515.06 434.25H522.56M518.81 430.50V438.00" stroke="#ff4500" stroke-width="1.3" fill="none"/>
<path d="M538.49 445.50H545.99M542.24 441.75V449.25" stroke="#ff4500" stroke-width="1.3" fill="none"/>
<path d="M561.92 458.00H569.42M565.67 454.25V461.75" stroke="#ff4500" stroke-width="1.3" fill="none"/>
<path d="M585.35 470.00H592.85M589.10 466.25V473.75" stroke="#ff4500" stroke-width="1.3" fill="none"/>
<path d="M608.78 481.75H616.28M612.53 478.00V485.50" stroke="#ff4500" stroke-width="1.3" fill="none"/>
<path d="M632.21 494.25H639.71M635.96 490.50V498.00" stroke="#ff4500" stroke-width="1.3" fill="none"/>
<path d="M655.64 506.60H663.14M659.39 502.85V510.35" stroke="#ff4500" stroke-width="1.3" fill="none"/>
<path d="M679.07 518.90H686.57M682.82 515.15V522.65" stroke="#ff4500" stroke-width="1.3" fill="none"/>
<path d="M702.50 531.20H710.00M706.25 527.45V534.95" stroke="#ff4500" stroke-width="1.3" fill="none"/>
<path d="M725.93 543.70H733.43M729.68 539.95V547.45" stroke="#ff4500" stroke-width="1.3" fill="none"/>
<polyline clip-path="url(#cb)" points="97.07,372.50 120.50,370.00 143.93,367.25 167.36,367.50 190.79,368.00 214.22,367.00 237.65,367.25 261.08,367.25 284.51,367.75 307.94,368.75 331.37,369.50 354.80,372.50 378.23,376.25 401.66,383.00 425.09,391.25 448.52,401.25 471.95,411.50 495.38,423.75 518.81,435.00 542.24,446.25 565.67,458.75 589.10,470.75 612.53,482.50 635.96,495.00 659.39,507.40 682.82,519.70 706.25,532.00 729.68,544.50 753.11,559.50 776.54,574.50" fill="none" stroke="#00ffff" stroke-width="1.5"/>
<path d="M116.75 366.25L124.25 373.75M116.75 373.75L124.25 366.25" stroke="#00ffff" stroke-width="1.3" fill="none"/>
<path d="M140.18 363.50L147.68 371.00M140.18 371.00L147.68 363.50" stroke="#00ffff" stroke-width="1.3" fill="none"/>
<path d="M163.61 363.75L171.11 371.25M163.61 371.25L171.11 363.75" stroke="#00ffff" stroke-width="1.3" fill="none"/>
<path d="M187.04 364.25L194.54 371.75M187.04 371.75L194.54 364.25" stroke="#00ffff" stroke-width="1.3" fill="none"/>
<path d="M210.47 363.25L217.97 370.75M210.47 370.75L217.97 363.25" stroke="#00ffff" stroke-width="1.3" fill="none"/>
<path d="M233.90 363.50L241.40 371.00M233.90 371.00L241.40 363.50" stroke="#00ffff" stroke-width="1.3" fill="none"/>
<path d="M257.33 363.50L264.83 371.00M257.33 371.00L264.83 363.50" stroke="#00ffff" stroke-width="1.3" fill="none"/>
<path d="M280.76 364.00L288.26 371.50M280.76 371.50L288.26 364.00" stroke="#00ffff" stroke-width="1.3" fill="none"/>
<path d="M304.19 365.00L311.69 372.50M304.19 372.50L311.69 365.00" stroke="#00ffff" stroke-width="1.3" fill="none"/>
<path d="M327.62 365.75L335.12 373.25M327.62 373.25L335.12 365.75" stroke="#00ffff" stroke-width="1.3" fill="none"/>
<path d="M351.05 368.75L358.55 376.25M351.05 376.25L358.55 368.75" stroke="#00ffff" stroke-width="1.3" fill="none"/>
<path d="M374.48 372.50L381.98 380.00M374.48 380.00L381.98 372.50" stroke="#00ffff" stroke-width="1.3" fill="none"/>
<path d="M397.91 379.25L405.41 386.75M397.91 386.75L405.41 379.25" stroke="#00ffff" stroke-width="1.3" fill="none"/>
<path d="M421.34 387.50L428.84 395.00M421.34 395.00L428.84 387.50" stroke="#00ffff" stroke-width="1.3" fill="none"/>
<path d="M444.77 397.50L452.27 405.00M444.77 405.00L452.27 397.50" stroke="#00ffff" stroke-width="1.3" fill="none"/>
<path d="M468.20 407.75L475.70 415.25M468.20 415.25L475.70 407.75" stroke="#00ffff" stroke-width="1.3" fill="none"/>
<path d="M491.63 420.00L499.13 427.50M491.63 427.50L499.13 420.00" stroke="#00ffff" stroke-width="1.3" fill="none"/>
<path d="M515.06 431.25L522.56 438.75M515.06 438.75L522.56 431.25" stroke="#00ffff" stroke-width="1.3" fill="none"/>
<path d="M538.49 442.50L545.99 450.00M538.49 450.00L545.99 442.50" stroke="#00ffff" stroke-width="1.3" fill="none"/>
<path d="M561.92 455.00L569.42 462.50M561.92 462.50L569.42 455.00" stroke="#00ffff" stroke-width="1.3" fill="none"/>
<path d="M585.35 467.00L592.85 474.50M585.35 474.50L592.85 467.00" stroke="#00ffff" stroke-width="1.3" fill="none"/>
<path d="M608.78 478.75L616.28 486.25M608.78 486.25L616.28 478.75" stroke="#00ffff" stroke-width="1.3" fill="none"/>
<path d="M632.21 491.25L639.71 498.75M632.21 498.75L639.71 491.25" stroke="#00ffff" stroke-width="1.3" fill="none"/>
<path d="M655.64 503.65L663.14 511.15M655.64 511.15L663.14 503.65" stroke="#00ffff" stroke-width="1.3" fill="none"/>
<path d="M679.07 515.95L686.57 523.45M679.07 523.45L686.57 515.95" stroke="#00ffff" stroke-width="1.3" fill="none"/>
<path d="M702.50 528.25L710.00 535.75M702.50 535.75L710.00 528.25" stroke="#00ffff" stroke-width="1.3" fill="none"/>
<path d="M725.93 540.75L733.43 548.25M725.93 548.25L733.43 540.75" stroke="#00ffff" stroke-width="1.3" fill="none"/>
<polyline clip-path="url(#cb)" points="97.07,354.50 120.50,357.00 143.93,357.00 167.36,359.25 190.79,359.50 214.22,356.75 237.65,358.75 261.08,358.25 284.51,361.00 307.94,363.00 331.37,368.00 354.80,374.25 378.23,382.00 401.66,390.75 425.09,400.75 448.52,410.50 471.95,420.90 495.38,431.25 518.81,441.25 542.24,452.00 565.67,463.25 589.10,475.00 612.53,486.75 635.96,499.25 659.39,511.75 682.82,524.50 706.25,536.75 729.68,549.80 753.11,565.46 776.54,581.12" fill="none" stroke="#ff00ff" stroke-width="1.5"/>
<path d="M116.75 357.00H124.25M120.50 353.25V360.75M116.75 353.25L124.25 360.75M116.75 360.75L124.25 353.25" stroke="#ff00ff" stroke-width="1.3" fill="none"/>
<path d="M140.18 357.00H147.68M143.93 353.25V360.75M140.18 353.25L147.68 360.75M140.18 360.75L147.68 353.25" stroke="#ff00ff" stroke-width="1.3" fill="none"/>
<path d="M163.61 359.25H171.11M167.36 355.50V363.00M163.61 355.50L171.11 363.00M163.61 363.00L171.11 355.50" stroke="#ff00ff" stroke-width="1.3" fill="none"/>
<path d="M187.04 359.50H194.54M190.79 355.75V363.25M187.04 355.75L194.54 363.25M187.04 363.25L194.54 355.75" stroke="#ff00ff" stroke-width="1.3" fill="none"/>
<path d="M210.47 356.75H217.97M214.22 353.00V360.50M210.47 353.00L217.97 360.50M210.47 360.50L217.97 353.00" stroke="#ff00ff" stroke-width="1.3" fill="none"/>
<path d="M233.90 358.75H241.40M237.65 355.00V362.50M233.90 355.00L241.40 362.50M233.90 362.50L241.40 355.00" stroke="#ff00ff" stroke-width="1.3" fill="none"/>
<path d="M257.33 358.25H264.83M261.08 354.50V362.00M257.33 354.50L264.83 362.00M257.33 362.00L264.83 354.50" stroke="#ff00ff" stroke-width="1.3" fill="none"/>
<path d="M280.76 361.00H288.26M284.51 357.25V364.75M280.76 357.25L288.26 364.75M280.76 364.75L288.26 357.25" stroke="#ff00ff" stroke-width="1.3" fill="none"/>
<path d="M304.19 363.00H311.69M307.94 359.25V366.75M304.19 359.25L311.69 366.75M304.19 366.75L311.69 359.25" stroke="#ff00ff" stroke-width="1.3" fill="none"/>
<path d="M327.62 368.00H335.12M331.37 364.25V371.75M327.62 364.25L335.12 371.75M327.62 371.75L335.12 364.25" stroke="#ff00ff" stroke-width="1.3" fill="none"/>
<path d="M351.05 374.25H358.55M354.80 370.50V378.00M351.05 370.50L358.55 378.00M351.05 378.00L358.55 370.50" stroke="#ff00ff" stroke-width="1.3" fill="none"/>
<path d="M374.48 382.00H381.98M378.23 378.25V385.75M374.48 378.25L381.98 385.75M374.48 385.75L381.98 378.25" stroke="#ff00ff" stroke-width="1.3" fill="none"/>
<path d="M397.91 390.75H405.41M401.66 387.00V394.50M397.91 387.00L405.41 394.50M397.91 394.50L405.41 387.00" stroke="#ff00ff" stroke-width="1.3" fill="none"/>
<path d="M421.34 400.75H428.84M425.09 397.00V404.50M421.34 397.00L428.84 404.50M421.34 404.50L428.84 397.00" stroke="#ff00ff" stroke-width="1.3" fill="none"/>
<path d="M444.77 410.50H452.27M448.52 406.75V414.25M444.77 406.75L452.27 414.25M444.77 414.25L452.27 406.75" stroke="#ff00ff" stroke-width="1.3" fill="none"/>
<path d="M468.20 420.90H475.70M471.95 417.15V424.65M468.20 417.15L475.70 424.65M468.20 424.65L475.70 417.15" stroke="#ff00ff" stroke-width="1.3" fill="none"/>
<path d="M491.63 431.25H499.13M495.38 427.50V435.00M491.63 427.50L499.13 435.00M491.63 435.00L499.13 427.50" stroke="#ff00ff" stroke-width="1.3" fill="none"/>
<path d="M515.06 441.25H522.56M518.81 437.50V445.00M515.06 437.50L522.56 445.00M515.06 445.00L522.56 437.50" stroke="#ff00ff" stroke-width="1.3" fill="none"/>
<path d="M538.49 452.00H545.99M542.24 448.25V455.75M538.49 448.25L545.99 455.75M538.49 455.75L545.99 448.25" stroke="#ff00ff" stroke-width="1.3" fill="none"/>
<path d="M561.92 463.25H569.42M565.67 459.50V467.00M561.92 459.50L569.42 467.00M561.92 467.00L569.42 459.50" stroke="#ff00ff" stroke-width="1.3" fill="none"/>
<path d="M585.35 475.00H592.85M589.10 471.25V478.75M585.35 471.25L592.85 478.75M585.35 478.75L592.85 471.25" stroke="#ff00ff" stroke-width="1.3" fill="none"/>
<path d="M608.78 486.75H616.28M612.53 483.00V490.50M608.78 483.00L616.28 490.50M608.78 490.50L616.28 483.00" stroke="#ff00ff" stroke-width="1.3" fill="none"/>
<path d="M632.21 499.25H639.71M635.96 495.50V503.00M632.21 495.50L639.71 503.00M632.21 503.00L639.71 495.50" stroke="#ff00ff" stroke-width="1.3" fill="none"/>
<path d="M655.64 511.75H663.14M659.39 508.00V515.50M655.64 508.00L663.14 515.50M655.64 515.50L663.14 508.00" stroke="#ff00ff" stroke-width="1.3" fill="none"/>
<path d="M679.07 524.50H686.57M682.82 520.75V528.25M679.07 520.75L686.57 528.25M679.07 528.25L686.57 520.75" stroke="#ff00ff" stroke-width="1.3" fill="none"/>
<path d="M702.50 536.75H710.00M706.25 533.00V540.50M702.50 533.00L710.00 540.50M702.50 540.50L710.00 533.00" stroke="#ff00ff" stroke-width="1.3" fill="none"/>
<path d="M725.93 549.80H733.43M729.68 546.05V553.55M725.93 546.05L733.43 553.55M725.93 553.55L733.43 546.05" stroke="#ff00ff" stroke-width="1.3" fill="none"/>
<polyline clip-path="url(#cb)" points="97.07,380.00 120.50,394.00 143.93,384.50 167.36,387.50 190.79,384.25 214.22,383.75 237.65,384.00 261.08,385.50 284.51,386.25 307.94,386.25 331.37,389.25 354.80,392.00 378.23,397.25 401.66,404.25 425.09,411.75 448.52,420.50 471.95,429.40 495.38,438.25 518.81,447.50 542.24,458.00 565.67,468.00 589.10,479.25 612.53,490.50 635.96,502.50 659.39,514.40 682.82,526.60 706.25,538.60 729.68,551.60 753.11,567.20 776.54,582.80" fill="none" stroke="#0000ff" stroke-width="1.5"/>
<path d="M116.75 390.25H124.25V397.75H116.75Z" stroke="#0000ff" stroke-width="1.3" fill="none"/>
<path d="M140.18 380.75H147.68V388.25H140.18Z" stroke="#0000ff" stroke-width="1.3" fill="none"/>
<path d="M163.61 383.75H171.11V391.25H163.61Z" stroke="#0000ff" stroke-width="1.3" fill="none"/>
<path d="M187.04 380.50H194.54V388.00H187.04Z" stroke="#0000ff" stroke-width="1.3" fill="none"/>
<path d="M210.47 380.00H217.97V387.50H210.47Z" stroke="#0000ff" stroke-width="1.3" fill="none"/>
<path d="M233.90 380.25H241.40V387.75H233.90Z" stroke="#0000ff" stroke-width="1.3" fill="none"/>
<path d="M257.33 381.75H264.83V389.25H257.33Z" stroke="#0000ff" stroke-width="1.3" fill="none"/>
<path d="M280.76 382.50H288.26V390.00H280.76Z" stroke="#0000ff" stroke-width="1.3" fill="none"/>
<path d="M304.19 382.50H311.69V390.00H304.19Z" stroke="#0000ff" stroke-width="1.3" fill="none"/>
<path d="M327.62 385.50H335.12V393.00H327.62Z" stroke="#0000ff" stroke-width="1.3" fill="none"/>
<path d="M351.05 388.25H358.55V395.75H351.05Z" stroke="#0000ff" stroke-width="1.3" fill="none"/>
<path d="M374.48 393.50H381.98V401.00H374.48Z" stroke="#0000ff" stroke-width="1.3" fill="none"/>
<path d="M397.91 400.50H405.41V408.00H397.91Z" stroke="#0000ff" stroke-width="1.3" fill="none"/>
<path d="M421.34 408.00H428.84V415.50H421.34Z" stroke="#0000ff" stroke-width="1.3" fill="none"/>
<path d="M444.77 416.75H452.27V424.25H444.77Z" stroke="#0000ff" stroke-width="1.3" fill="none"/>
<path d="M468.20 425.65H475.70V433.15H468.20Z" stroke="#0000ff" stroke-width="1.3" fill="none"/>
<path d="M491.63 434.50H499.13V442.00H491.63Z" stroke="#0000ff" stroke-width="1.3" fill="none"/>
<path d="M515.06 443.75H522.56V451.25H515.06Z" stroke="#0000ff" stroke-width="1.3" fill="none"/>
<path d="M538.49 454.25H545.99V461.75H538.49Z" stroke="#0000ff" stroke-width="1.3" fill="none"/>
<path d="M561.92 464.25H569.42V471.75H561.92Z" stroke="#0000ff" stroke-width="1.3" fill="none"/>
<path d="M585.35 475.50H592.85V483.00H585.35Z" stroke="#0000ff" stroke-width="1.3" fill="none"/>
<path d="M608.78 486.75H616.28V494.25H608.78Z" stroke="#0000ff" stroke-width="1.3" fill="none"/>
<path d="M632.21 498.75H639.71V506.25H632.21Z" stroke="#0000ff" stroke-width="1.3" fill="none"/>
<path d="M655.64 510.65H663.14V518.15H655.64Z" stroke="#0000ff" stroke-width="1.3" fill="none"/>
<path d="M679.07 522.85H686.57V530.35H679.07Z" stroke="#0000ff" stroke-width="1.3" fill="none"/>
<path d="M702.50 534.85H710.00V542.35H702.50Z" stroke="#0000ff" stroke-width="1.3" fill="none"/>
<path d="M725.93 547.85H733.43V555.35H725.93Z" stroke="#0000ff" stroke-width="1.3" fill="none"/>
<g stroke="#000000" stroke-width="1.4" fill="none">
<path d="M107.4 325.0 V551.6 H847.5"/>
<path d="M102.9 551.40 H107.4"/>
<path d="M105.2 521.84 H107.4" stroke-width="0.9"/>
<path d="M105.2 504.55 H107.4" stroke-width="0.9"/>
<path d="M105.2 492.28 H107.4" stroke-width="0.9"/>
<path d="M105.2 482.76 H107.4" stroke-width="0.9"/>
<path d="M105.2 474.99 H107.4" stroke-width="0.9"/>
<path d="M105.2 468.41 H107.4" stroke-width="0.9"/>
<path d="M105.2 462.72 H107.4" stroke-width="0.9"/>
<path d="M105.2 457.69 H107.4" stroke-width="0.9"/>
<path d="M102.9 453.20 H107.4"/>
<path d="M105.2 423.64 H107.4" stroke-width="0.9"/>
<path d="M105.2 406.35 H107.4" stroke-width="0.9"/>
<path d="M105.2 394.08 H107.4" stroke-width="0.9"/>
<path d="M105.2 384.56 H107.4" stroke-width="0.9"/>
<path d="M105.2 376.79 H107.4" stroke-width="0.9"/>
<path d="M105.2 370.21 H107.4" stroke-width="0.9"/>
<path d="M105.2 364.52 H107.4" stroke-width="0.9"/>
<path d="M105.2 359.49 H107.4" stroke-width="0.9"/>
<path d="M102.9 355.00 H107.4"/>
<path d="M105.2 325.44 H107.4" stroke-width="0.9"/>
<path d="M115.10 551.6 V555.1"/>
<path d="M170.17 551.6 V553.6" stroke-width="0.9"/>
<path d="M242.98 551.6 V553.6" stroke-width="0.9"/>
<path d="M280.32 551.6 V553.6" stroke-width="0.9"/>
<path d="M298.05 551.6 V555.1"/>
<path d="M353.12 551.6 V553.6" stroke-width="0.9"/>
<path d="M425.93 551.6 V553.6" stroke-width="0.9"/>
<path d="M463.27 551.6 V553.6" stroke-width="0.9"/>
<path d="M481.00 551.6 V555.1"/>
<path d="M536.07 551.6 V553.6" stroke-width="0.9"/>
<path d="M608.88 551.6 V553.6" stroke-width="0.9"/>
<path d="M646.22 551.6 V553.6" stroke-width="0.9"/>
<path d="M663.95 551.6 V555.1"/>
<path d="M719.02 551.6 V553.6" stroke-width="0.9"/>
<path d="M791.83 551.6 V553.6" stroke-width="0.9"/>
<path d="M829.17 551.6 V553.6" stroke-width="0.9"/>
<path d="M846.90 551.6 V555.1"/>
</g>
<g font-size="22" fill="#000">
<text x="93.0" y="362.80" text-anchor="end">10</text>
<text x="93.0" y="461.00" text-anchor="end">1</text>
<text x="93.0" y="559.20" text-anchor="end" textLength="29.1" lengthAdjust="spacing">0.1</text>
<text x="118.00" y="579.8" text-anchor="middle" textLength="29.1" lengthAdjust="spacing">0.1</text>
<text x="300.95" y="579.8" text-anchor="middle">1</text>
<text x="483.90" y="579.8" text-anchor="middle">10</text>
<text x="666.85" y="579.8" text-anchor="middle">100</text>
<text x="849.80" y="579.8" text-anchor="middle">1000</text>
</g>
<text x="343.3" y="609.0" font-size="35" textLength="267.5" lengthAdjust="spacing" fill="#000">Driving Force(pN)</text>
<rect x="717.0" y="333.0" width="119.5" height="67.5" fill="none" stroke="#3c3cff" stroke-width="1.1" stroke-dasharray="3.6 2.4"/><text y="347.1" font-size="17" fill="#000"><tspan x="723.10" font-family="Liberation Serif, serif" font-size="21" textLength="11.2" lengthAdjust="spacingAndGlyphs">α</tspan><tspan x="734.40">=0.0</tspan></text><path d="M778 341.35 H826.2" stroke="#ff4500" stroke-width="1.5" fill="none"/><path d="M798.45 341.35H805.95M802.20 337.60V345.10" stroke="#ff4500" stroke-width="1.3" fill="none"/><text y="364.03" font-size="17" fill="#000"><tspan x="723.10" font-family="Liberation Serif, serif" font-size="21" textLength="11.2" lengthAdjust="spacingAndGlyphs">α</tspan><tspan x="734.40">=1.0</tspan></text><path d="M778 358.28 H826.2" stroke="#00ffff" stroke-width="1.5" fill="none"/><path d="M798.45 354.53L805.95 362.03M798.45 362.03L805.95 354.53" stroke="#00ffff" stroke-width="1.3" fill="none"/><text y="380.96" font-size="17" fill="#000"><tspan x="723.10" font-family="Liberation Serif, serif" font-size="21" textLength="11.2" lengthAdjust="spacingAndGlyphs">α</tspan><tspan x="734.40">=1.5</tspan></text><path d="M778 375.21 H826.2" stroke="#ff00ff" stroke-width="1.5" fill="none"/><path d="M798.45 375.21H805.95M802.20 371.46V378.96M798.45 371.46L805.95 378.96M798.45 378.96L805.95 371.46" stroke="#ff00ff" stroke-width="1.3" fill="none"/><text y="397.89" font-size="17" fill="#000"><tspan x="723.10" font-family="Liberation Serif, serif" font-size="21" textLength="11.2" lengthAdjust="spacingAndGlyphs">α</tspan><tspan x="734.40">=1.8</tspan></text><path d="M778 392.14 H826.2" stroke="#0000ff" stroke-width="1.5" fill="none"/><path d="M798.45 388.39H805.95V395.89H798.45Z" stroke="#0000ff" stroke-width="1.3" fill="none"/>
</svg></body></html>
